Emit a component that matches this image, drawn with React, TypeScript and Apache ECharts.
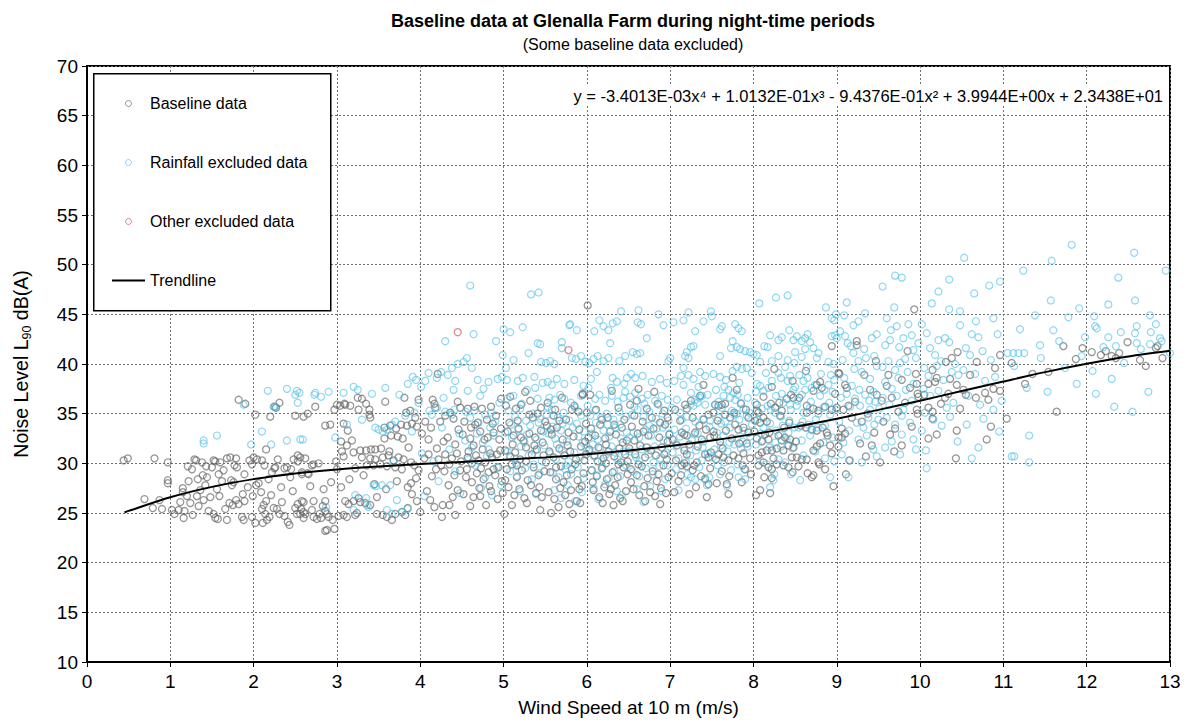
import React, { useEffect, useRef } from "react";
import * as echarts from "echarts";

type P = [number, number];

const titleText = "Baseline data at Glenalla Farm during night-time periods";
const subtitleText = "(Some baseline data excluded)";
const xAxisName = "Wind Speed at 10 m (m/s)";
const yAxisName = "Noise Level L{sub|90} dB(A)";
const equationText =
  "y = -3.4013E-03x⁴ + 1.0132E-01x³ - 9.4376E-01x² + 3.9944E+00x + 2.3438E+01";
const seriesNames = ["Baseline data", "Rainfall excluded data", "Other excluded data", "Trendline"];

const baseline_0_3: P[] = [
  [0.44,30.3],[0.49,30.5],[0.69,26.4],[0.79,25.5],[0.81,30.5],[0.87,26.3],[0.9,25.4],[0.97,30.1],[0.97,28.3],[0.97,28.0],
  [1.02,25.3],[1.1,25.3],[1.16,24.5],[1.17,25.2],[1.22,28.2],[1.15,27.5],[1.15,27.1],[1.21,29.7],[1.26,29.4],[1.29,30.4],
  [1.31,30.3],[1.2,26.7],[1.24,26.0],[1.32,26.7],[1.34,25.7],[1.4,26.3],[1.42,27.8],[1.43,29.7],[1.39,28.8],[1.44,28.6],
  [1.33,28.4],[1.48,26.6],[1.05,24.9],[1.12,26.1],[1.27,24.8],[1.36,27.3],[1.46,25.2],[1.38,30.1],
  [1.5,29.6],[1.52,30.3],[1.54,30.2],[1.6,30.1],[1.56,27.4],[1.59,26.7],[1.52,24.9],[1.57,24.4],[1.54,24.5],[1.64,29.3],
  [1.68,30.5],[1.72,30.6],[1.79,30.5],[1.74,27.8],[1.76,28.1],[1.73,28.3],[1.68,24.3],[1.71,26.0],[1.75,25.8],[1.79,26.3],
  [1.82,25.9],[1.89,26.2],[1.87,26.9],[1.77,29.8],[1.8,29.6],[1.89,28.9],[1.86,24.6],[1.88,24.3],[1.82,36.4],[1.9,36.0],
  [1.98,24.6],[1.99,26.7],[1.98,29.9],[1.62,28.2],[1.66,25.4],[1.93,27.6],[1.95,30.3],[1.58,28.9],
  [2.0,30.6],[2.04,30.4],[2.03,27.8],[2.06,28.0],[2.02,24.0],[2.11,24.0],[2.1,25.4],[2.12,25.8],[2.15,26.2],[2.14,24.9],
  [2.19,24.6],[2.16,24.3],[2.1,30.3],[2.13,29.8],[2.15,31.4],[2.02,34.9],[2.2,34.7],[2.25,35.7],[2.27,35.6],[2.31,36.1],
  [2.22,29.1],[2.25,29.5],[2.26,29.6],[2.29,30.4],[2.24,25.5],[2.28,25.4],[2.34,26.1],[2.31,24.9],[2.37,24.7],[2.43,23.8],
  [2.41,24.1],[2.47,27.2],[2.37,29.5],[2.4,29.6],[2.45,29.4],[2.48,30.4],[2.09,27.1],[2.18,28.4],[2.33,27.6],[2.44,28.6],[2.21,26.8],
  [2.5,25.5],[2.53,25.9],[2.57,25.4],[2.6,26.1],[2.52,24.9],[2.56,24.9],[2.62,24.9],[2.53,30.2],[2.56,30.6],[2.62,30.5],
  [2.53,30.8],[2.5,34.8],[2.6,34.7],[2.65,35.0],[2.74,35.7],[2.58,28.9],[2.66,28.9],[2.7,29.8],[2.78,30.0],[2.76,24.4],
  [2.79,24.9],[2.83,25.7],[2.81,24.5],[2.6,25.1],[2.6,24.5],[2.58,29.1],[2.65,29.0],[2.72,29.9],[2.58,26.2],[2.72,26.2],
  [2.86,26.2],[2.7,25.3],[2.72,24.6],[2.86,25.2],[2.88,24.9],[2.9,24.6],[2.95,24.3],[2.86,23.2],[2.88,23.3],[2.97,23.4],
  [2.86,33.8],[2.92,33.9],[2.97,35.4],[2.93,28.1],[2.84,27.4],[2.68,27.7],[2.99,30.2]
];

const baseline_3_5: P[] = [
  [3.0,35.9],[3.04,35.8],[3.1,35.9],[3.16,35.8],[3.09,36.0],[3.25,36.6],[3.3,36.5],[3.35,36.0],[3.39,35.4],[3.39,34.9],
  [3.4,34.6],[3.26,35.4],[3.05,32.2],[3.06,31.2],[3.18,32.3],[3.12,31.8],[3.08,30.7],[3.08,34.0],[3.2,31.1],[3.28,31.3],
  [3.35,31.3],[3.41,31.4],[3.46,31.4],[3.3,30.6],[3.4,30.5],[3.46,30.4],[3.36,29.8],[3.44,29.8],[3.02,24.7],[3.08,24.8],
  [3.12,24.6],[3.22,24.8],[3.24,25.0],[3.1,26.2],[3.14,25.9],[3.2,26.2],[3.26,26.5],[3.28,26.1],[3.34,26.0],[3.4,25.8],
  [3.48,26.6],[3.48,24.9],[3.05,27.6],[3.15,28.4],[3.32,28.8],[3.45,27.9],[3.22,29.5],[3.0,29.4],[3.13,33.3],
  [3.58,36.2],[3.81,36.6],[3.98,36.4],[3.57,33.6],[3.64,33.8],[3.71,33.5],[3.77,33.9],[3.84,33.8],[3.9,34.0],[3.96,33.7],
  [3.57,32.5],[3.65,32.8],[3.73,32.7],[3.79,32.5],[3.55,30.6],[3.62,30.8],[3.68,30.3],[3.74,30.6],[3.8,30.4],[3.89,30.1],
  [3.52,29.9],[3.6,29.7],[3.7,29.6],[3.78,29.4],[3.93,29.8],[3.55,24.8],[3.6,24.6],[3.66,24.3],[3.7,24.9],[3.78,25.1],
  [3.82,24.8],[3.85,25.5],[3.9,26.9],[3.96,26.2],[4.0,25.1],[3.85,27.6],[3.89,28.0],[3.95,28.5],[3.98,29.3],[3.53,31.5],
  [3.63,31.2],[3.59,27.4],[3.72,28.2],[3.86,31.6],[3.94,34.6],[3.88,35.3],[3.83,35.1],
  [4.15,36.4],[4.17,36.0],[4.18,35.6],[4.21,39.0],[4.45,36.2],[4.2,31.5],[4.28,32.2],[4.33,32.6],[4.42,31.9],[4.46,33.4],
  [4.25,29.8],[4.29,29.2],[4.35,29.9],[4.41,28.8],[4.48,29.3],[4.17,25.6],[4.27,25.8],[4.35,25.8],[4.39,26.6],[4.45,27.3],
  [4.05,30.5],[4.1,30.9],[4.14,28.7],[4.08,27.2],[4.12,26.3],[4.22,30.4],[4.3,30.9],[4.38,30.5],[4.44,31.0],[4.02,33.0],
  [4.1,32.4],[4.24,34.2],[4.3,34.8],[4.36,35.1],[4.4,34.5],[4.48,35.6],[4.06,34.2],[4.34,27.8],[4.42,24.8],[4.26,24.6],
  [4.49,30.2],[4.13,33.6],[4.19,29.4],
  [4.57,35.5],[4.65,35.7],[4.74,35.5],[4.85,35.7],[4.97,36.5],[4.6,32.5],[4.64,31.8],[4.72,33.2],[4.81,32.6],[4.88,33.1],
  [4.95,32.4],[4.57,30.6],[4.62,30.0],[4.7,30.3],[4.78,30.1],[4.86,30.6],[4.94,29.6],[4.55,28.6],[4.62,28.1],[4.68,29.0],
  [4.76,28.4],[4.83,27.7],[4.9,28.8],[4.98,28.2],[4.6,25.7],[4.64,26.6],[4.72,26.7],[4.79,25.8],[4.85,27.2],[4.93,26.4],
  [4.99,27.0],[4.53,34.2],[4.69,34.1],[4.8,34.4],[4.91,34.8],[4.58,31.2],[4.75,31.4],[4.84,31.0],[4.96,31.3],[4.66,33.9],
  [4.52,26.9],[4.88,29.4],[4.71,27.5]
];

const baseline_5_7: P[] = [
  [5.03,35.8],[5.08,36.7],[5.15,35.5],[5.21,35.9],[5.32,36.3],[5.45,35.6],[5.05,33.2],[5.12,32.8],[5.18,33.5],[5.24,32.3],
  [5.31,33.0],[5.38,32.6],[5.45,33.3],[5.02,31.3],[5.08,30.7],[5.14,31.1],[5.2,30.4],[5.27,31.6],[5.34,30.9],[5.4,31.4],
  [5.48,30.8],[5.04,29.4],[5.1,29.9],[5.16,28.6],[5.22,29.3],[5.29,28.3],[5.36,29.6],[5.42,28.8],[5.49,29.2],[5.06,27.6],
  [5.13,26.8],[5.19,27.4],[5.25,26.5],[5.33,27.8],[5.39,27.0],[5.46,26.6],[5.1,25.8],[5.28,26.0],[5.44,25.3],[5.17,34.3],
  [5.35,34.6],[5.5,34.2],[5.26,37.2],[5.01,24.9],[5.41,35.0],
  [5.53,36.1],[5.62,35.4],[5.7,36.6],[5.85,35.8],[5.95,37.0],[5.52,33.8],[5.58,32.9],[5.64,33.6],[5.71,32.4],[5.78,33.1],
  [5.84,32.7],[5.91,33.4],[5.98,32.2],[5.55,31.2],[5.6,30.6],[5.67,31.5],[5.73,30.8],[5.8,31.2],[5.87,30.4],[5.93,31.7],
  [5.99,30.9],[5.56,29.1],[5.63,28.4],[5.69,29.7],[5.76,28.8],[5.82,29.4],[5.89,28.3],[5.96,29.0],[5.54,27.1],[5.61,26.4],
  [5.68,27.5],[5.74,26.8],[5.81,27.3],[5.88,26.2],[5.94,27.7],[5.66,25.6],[5.79,25.9],[5.92,26.0],[5.6,34.8],[5.75,34.4],
  [5.9,35.2],[5.57,25.0],[5.83,24.9],[5.99,34.0],
  [6.01,45.9],[5.95,36.9],[6.04,36.9],[6.0,35.1],[6.05,33.5],[6.1,32.8],[6.16,33.9],[6.22,32.5],[6.28,33.2],[6.35,32.9],
  [6.42,33.6],[6.48,32.3],[6.03,31.4],[6.09,30.8],[6.14,31.6],[6.2,30.5],[6.26,31.2],[6.33,30.7],[6.39,31.5],[6.46,30.9],
  [6.06,29.3],[6.12,28.7],[6.18,29.5],[6.24,28.4],[6.31,29.1],[6.37,28.6],[6.44,29.6],[6.49,28.9],[6.08,27.3],[6.15,26.6],
  [6.21,27.6],[6.27,26.9],[6.34,27.8],[6.4,26.5],[6.47,27.2],[6.11,35.4],[6.25,34.6],[6.38,35.6],[6.45,34.4],[6.19,26.0],
  [6.32,25.8],[6.43,26.2],[6.3,37.3],[6.23,30.0],[6.41,30.1],
  [6.52,35.9],[6.6,36.3],[6.72,35.5],[6.85,36.0],[6.93,35.3],[6.54,33.7],[6.61,33.0],[6.67,34.2],[6.74,32.8],[6.8,33.5],
  [6.87,32.6],[6.94,33.9],[6.99,32.9],[6.51,31.5],[6.58,30.9],[6.64,31.8],[6.7,30.6],[6.77,31.3],[6.83,30.8],[6.9,31.6],
  [6.96,30.4],[6.53,29.4],[6.6,28.8],[6.66,29.7],[6.73,28.5],[6.79,29.2],[6.86,28.9],[6.92,29.8],[6.98,28.6],[6.56,27.4],
  [6.63,26.8],[6.69,27.7],[6.76,27.1],[6.82,26.7],[6.89,27.5],[6.95,27.0],[6.62,37.5],[6.81,37.2],[6.7,26.2],[6.88,25.9],
  [6.57,34.8],[6.97,34.6]
];

const baseline_7_9: P[] = [
  [7.2,35.5],[7.14,33.1],[7.17,32.9],[7.2,32.8],[7.3,33.1],[7.35,33.8],[7.4,34.4],[7.46,34.9],[7.52,35.1],[7.14,29.8],
  [7.17,30.0],[7.2,29.7],[7.27,29.3],[7.29,29.8],[7.42,30.9],[7.46,30.6],[7.49,31.1],[7.17,31.3],[7.2,30.9],[7.42,28.4],
  [7.46,27.9],[7.05,27.1],[7.1,28.2],[7.08,31.8],[7.12,34.3],[7.25,36.3],[7.33,31.7],[7.38,32.4],[7.44,26.6],[7.02,29.0],
  [7.06,35.4],[7.31,27.6],[7.36,36.8],[7.48,32.6],[7.23,26.9],[7.4,37.9],
  [7.54,35.9],[7.58,35.8],[7.62,35.9],[7.66,36.0],[7.85,36.0],[7.66,34.9],[7.72,34.6],[7.78,33.9],[7.82,33.4],[7.88,33.6],
  [7.94,33.1],[7.94,34.6],[7.55,30.4],[7.58,30.9],[7.64,30.6],[7.7,30.3],[7.76,30.8],[7.82,30.5],[7.88,31.0],[7.56,28.0],
  [7.68,27.9],[7.86,28.1],[7.6,32.2],[7.74,32.5],[7.9,29.4],[7.52,33.2],[7.8,37.4],[7.97,28.9],[7.62,29.2],[7.7,26.9],
  [7.92,32.0],[7.75,38.6],
  [8.25,39.5],[8.22,37.7],[8.12,36.7],[8.04,35.9],[8.04,35.3],[8.21,36.0],[8.26,35.6],[8.34,35.3],[8.4,36.5],[8.45,36.9],
  [8.48,36.6],[8.02,34.3],[8.08,34.1],[8.12,34.6],[8.16,34.2],[8.04,32.5],[8.1,32.2],[8.14,32.9],[8.18,32.4],[8.3,32.8],
  [8.34,32.3],[8.38,32.6],[8.44,32.4],[8.28,31.5],[8.36,31.3],[8.42,31.8],[8.48,31.6],[8.06,30.8],[8.1,31.1],[8.16,31.3],
  [8.22,31.3],[8.06,29.8],[8.12,30.1],[8.18,29.6],[8.22,29.4],[8.28,29.9],[8.36,29.8],[8.42,29.6],[8.08,27.3],[8.2,27.0],
  [8.22,28.5],[8.03,26.8],[8.46,30.6],[8.32,34.8],[8.47,38.3],
  [8.63,39.3],[8.94,41.8],[8.72,37.3],[8.76,37.9],[8.8,38.2],[8.82,37.6],[8.64,35.8],[8.64,35.1],[8.72,35.5],[8.78,35.3],
  [8.86,35.7],[8.94,35.4],[8.57,33.8],[8.63,33.6],[8.7,33.4],[8.76,33.3],[8.83,33.6],[8.88,33.1],[8.52,30.6],[8.58,30.4],
  [8.54,29.7],[8.72,31.3],[8.76,31.7],[8.8,32.0],[8.92,31.8],[8.65,29.0],[8.7,28.6],[8.78,30.1],[8.86,29.4],[8.96,27.7],
  [8.72,28.8],[8.79,29.9],[8.64,30.4],[8.94,31.0],[8.89,32.8],[8.55,36.6],[8.98,37.0]
];

const baseline_9_13: P[] = [
  [9.02,39.1],[9.03,39.0],[9.1,37.9],[9.12,37.6],[9.0,35.6],[9.08,35.4],[9.14,35.8],[9.06,33.5],[9.1,33.0],[9.02,32.6],
  [9.06,32.6],[9.11,28.9],[9.02,31.7],[9.24,42.3],[9.24,41.9],[9.47,40.3],[9.33,38.9],[9.4,37.4],[9.37,35.0],[9.45,33.1],
  [9.42,31.8],[9.3,34.2],[9.22,36.2],[9.48,36.9],[9.15,30.3],[9.28,32.0],[9.35,30.7],[9.18,34.6],
  [9.54,36.3],[9.64,32.9],[9.7,33.5],[9.69,31.2],[9.78,38.4],[9.78,31.8],[9.85,41.3],[9.93,45.5],[9.95,39.0],[9.96,38.0],
  [9.97,37.0],[9.98,36.7],[9.97,35.0],[9.96,35.4],[9.6,37.8],[9.66,36.6],[9.74,35.2],[9.82,36.1],[9.88,37.6],[9.56,34.2],
  [9.9,33.7],[9.52,30.1],[9.62,38.9],
  [10.1,38.0],[10.15,39.4],[10.2,38.6],[10.18,38.2],[10.1,32.5],[10.2,32.9],[10.15,34.5],[10.1,35.6],[10.15,35.2],[10.31,40.2],
  [10.45,41.2],[10.38,40.6],[10.36,38.5],[10.44,37.9],[10.3,36.6],[10.34,37.0],[10.43,30.5],[10.44,33.3],[10.05,36.9],[10.25,36.0],
  [10.48,35.5],
  [10.55,36.9],[10.52,37.4],[10.67,36.6],[10.68,40.2],[10.78,37.1],[10.82,36.4],[10.88,37.5],[10.96,37.3],[10.96,40.9],[10.85,33.7],
  [10.8,32.4],[10.6,38.9],[10.9,39.6],
  [11.04,34.5],[11.26,38.0],[11.1,40.1],[11.35,39.0],
  [11.54,39.2],[11.64,35.2],[11.72,41.8],[11.87,40.5],[11.95,41.6],
  [12.17,40.9],[12.23,41.3],[12.3,40.8],[12.35,40.6],[12.39,41.1],[12.49,42.2],[12.64,40.4],[12.71,39.8],[12.85,41.8],[12.83,41.6],
  [12.91,40.6],[12.06,41.2]
];

const baseline_dense: P[] = [
  [4.51,32.9],[4.56,29.4],[4.61,33.6],[4.67,30.8],[4.73,29.5],[4.77,32.4],[4.82,29.1],[4.87,34.0],[4.92,30.9],[4.97,33.5],
  [5.02,28.3],[5.07,34.1],[5.11,31.9],[5.16,29.8],[5.21,32.6],[5.27,30.2],[5.31,34.9],[5.37,31.8],[5.43,27.6],[5.47,32.1],
  [5.51,30.1],[5.57,33.4],[5.63,29.6],[5.67,34.3],[5.72,28.1],[5.77,31.8],[5.82,35.4],[5.86,29.9],[5.91,27.4],[5.97,30.3],
  [6.02,32.6],[6.07,28.1],[6.13,30.2],[6.18,34.4],[6.23,31.9],[6.29,27.4],[6.33,33.9],[6.38,29.9],[6.43,32.1],[6.49,30.2],
  [6.53,28.1],[6.57,32.3],[6.62,29.9],[6.68,33.2],[6.72,31.6],[6.78,34.6],[6.84,28.2],[6.88,34.1],[6.93,30.9],[6.97,32.2],
  [7.03,32.4],[7.07,30.3],[7.13,28.8],[7.18,35.9],[7.23,31.9],[7.27,34.6],[7.32,30.1],[7.37,28.7],[7.43,33.4],[7.48,29.5],
  [7.53,32.8],[7.57,34.3],[7.63,31.5],[7.67,33.3],[7.71,28.7],[7.77,35.1],[7.83,32.0],[7.87,29.8],[7.91,35.4],[7.96,30.5],
  [8.01,33.2],[8.06,35.1],[8.13,28.6],[8.19,33.1],[8.24,30.5],[8.31,36.1],[8.37,33.6],[8.43,34.1],[8.47,29.1],[8.51,32.2]
];

const rainfall_1_4: P[] = [
  [1.56,32.8],[1.4,32.3],[1.4,32.0],[1.97,31.9],[1.88,35.9],
  [2.17,37.3],[2.4,37.5],[2.52,37.3],[2.55,37.1],[2.5,36.9],[2.74,37.1],[2.53,36.1],[2.24,35.7],[2.26,35.6],[2.21,31.9],
  [2.4,32.3],[2.56,32.4],[2.59,32.4],[2.73,36.9],[2.81,36.7],[2.9,37.2],[2.98,32.6],[2.1,33.2],[2.87,25.6],
  [3.08,37.1],[3.2,37.7],[3.25,37.4],[3.44,27.8],[3.47,27.7],[3.2,25.3],[3.22,26.8],[3.36,25.8],[3.38,25.6],[3.46,33.6],
  [3.5,33.4],[3.12,33.9],[3.3,34.4],[3.42,37.0],[3.35,26.5],
  [3.54,27.8],[3.64,27.8],[3.6,25.3],[3.66,24.9],[3.72,26.3],[3.78,25.1],[3.85,25.4],[3.55,33.2],[3.6,33.4],[3.66,33.9],
  [3.7,34.2],[3.82,34.8],[3.9,33.2],[3.93,35.1],[3.85,38.0],[3.91,38.7],[3.95,38.4],[3.58,37.6],[3.75,36.9],[3.68,30.2],
  [3.98,36.1]
];

const rainfall_4_6: P[] = [
  [4.01,37.7],[4.06,38.3],[4.1,39.1],[4.2,38.6],[4.25,39.2],[4.3,42.3],[4.33,38.9],[4.38,39.6],[4.42,38.3],[4.45,40.0],
  [4.11,35.3],[4.14,34.9],[4.2,35.6],[4.3,35.2],[4.38,34.9],[4.41,35.4],[4.02,31.0],[4.16,30.2],[4.26,33.6],[4.35,31.4],
  [4.42,29.2],[4.48,27.0],[4.05,26.7],[4.22,28.2],[4.47,33.0],[4.28,36.6],[4.4,37.4],
  [4.6,47.9],[4.52,40.2],[4.56,40.6],[4.62,39.6],[4.69,38.4],[4.72,36.8],[4.76,37.5],[4.82,38.2],[4.91,42.3],[4.93,38.5],
  [4.98,38.7],[4.55,35.2],[4.6,34.6],[4.65,35.3],[4.7,34.1],[4.78,34.9],[4.85,35.1],[4.9,34.2],[4.95,36.1],[4.54,32.3],
  [4.62,31.6],[4.68,33.0],[4.75,32.1],[4.82,31.4],[4.88,32.8],[4.58,30.4],[4.66,29.8],[4.8,30.7],[4.92,29.6],[4.73,27.5],
  [4.86,26.8],[4.97,27.8],[4.64,43.0],[4.99,40.9],[4.57,37.3],[4.84,33.6],[4.78,28.6],
  [5.0,43.5],[5.08,43.2],[5.23,43.7],[5.33,47.0],[5.42,47.2],[5.41,42.1],[5.44,42.0],[5.04,38.4],[5.17,38.3],[5.23,38.6],
  [5.37,38.7],[5.45,40.2],[5.38,37.6],[5.12,36.8],[5.28,37.4],[5.41,36.5],[5.06,35.3],[5.14,34.7],[5.2,35.5],[5.27,34.3],
  [5.35,35.0],[5.44,34.5],[5.02,33.1],[5.1,32.6],[5.18,33.4],[5.25,32.1],[5.32,33.8],[5.4,32.4],[5.48,33.2],[5.05,31.2],
  [5.13,30.5],[5.21,31.7],[5.3,30.8],[5.38,31.3],[5.46,30.2],[5.08,29.2],[5.16,28.7],[5.26,29.5],[5.34,28.4],[5.43,29.0],
  [5.2,27.2],[5.39,26.9],[5.12,40.4],[5.3,41.1],[5.47,38.1],[5.03,39.6],
  [5.51,40.1],[5.56,40.3],[5.61,40.0],[5.53,38.2],[5.58,37.9],[5.64,38.5],[5.7,42.2],[5.7,41.6],[5.8,44.0],[5.88,43.4],
  [5.79,43.9],[5.82,40.6],[5.87,40.5],[5.93,40.8],[5.98,40.2],[5.73,38.0],[5.85,38.4],[5.96,37.8],[5.55,36.6],[5.61,36.4],
  [5.68,36.9],[5.73,36.5],[5.93,36.8],[5.52,34.9],[5.58,35.4],[5.65,34.6],[5.72,35.1],[5.79,34.3],[5.86,35.6],[5.93,34.8],
  [5.54,33.0],[5.62,32.5],[5.69,33.3],[5.76,32.2],[5.83,33.6],[5.9,32.7],[5.97,33.2],[5.56,31.0],[5.63,30.4],[5.7,31.3],
  [5.78,30.2],[5.85,31.1],[5.92,30.6],[5.99,31.5],[5.59,29.1],[5.66,28.6],[5.74,29.4],[5.81,28.9],[5.89,29.6],[5.96,28.5],
  [5.61,27.3],[5.77,27.8],[5.94,27.1],[5.69,26.5],[5.86,26.2]
];

const rainfall_6_8: P[] = [
  [6.15,44.4],[6.09,43.3],[6.2,43.8],[6.26,43.4],[6.31,44.1],[6.36,44.3],[6.41,45.3],[6.03,40.1],[6.08,40.5],[6.13,40.8],
  [6.2,40.3],[6.26,40.6],[6.39,40.3],[6.46,40.8],[6.31,38.6],[6.36,38.2],[6.45,38.0],[6.48,38.6],[6.02,37.6],[6.05,38.5],
  [6.1,36.5],[6.15,36.9],[6.22,36.3],[6.3,36.8],[6.37,36.2],[6.44,36.6],[6.04,34.8],[6.1,35.3],[6.17,34.6],[6.24,35.0],
  [6.32,34.4],[6.39,35.2],[6.47,34.7],[6.06,33.0],[6.13,32.4],[6.2,33.3],[6.27,32.7],[6.34,33.6],[6.41,32.5],[6.48,33.1],
  [6.02,31.3],[6.09,30.7],[6.16,31.5],[6.23,30.9],[6.3,31.7],[6.37,30.4],[6.44,31.2],[6.05,29.3],[6.12,28.8],[6.19,29.6],
  [6.26,28.5],[6.33,29.2],[6.4,28.7],[6.47,29.8],[6.08,27.5],[6.22,27.9],[6.36,27.2],[6.14,26.4],[6.42,26.8],[6.28,42.1],
  [6.12,39.2],
  [6.62,45.4],[6.61,44.2],[6.65,44.0],[6.86,45.0],[6.92,43.9],[6.55,41.2],[6.6,41.0],[6.64,41.1],[6.53,39.0],[6.58,38.6],
  [6.67,38.8],[6.78,38.2],[6.88,38.5],[6.96,38.1],[6.52,36.7],[6.58,37.1],[6.66,36.5],[6.73,36.9],[6.82,36.3],[6.9,36.8],
  [6.97,36.4],[6.54,34.9],[6.61,35.4],[6.68,34.7],[6.75,35.2],[6.83,34.5],[6.91,35.0],[6.98,34.3],[6.56,33.1],[6.63,32.6],
  [6.7,33.4],[6.77,32.8],[6.84,33.5],[6.92,32.3],[6.99,33.0],[6.51,31.2],[6.59,30.6],[6.66,31.4],[6.74,30.9],[6.81,31.7],
  [6.88,30.5],[6.95,31.1],[6.55,29.2],[6.63,28.7],[6.71,29.5],[6.79,28.9],[6.87,29.7],[6.94,28.4],[6.6,27.4],[6.76,27.7],
  [6.9,27.2],[6.68,26.1],[6.98,40.3],[6.72,42.6],
  [7.04,44.2],[7.22,45.2],[7.16,44.4],[7.3,43.3],[7.28,41.8],[7.0,40.6],[7.22,40.6],[7.2,41.2],[7.18,40.8],[7.25,41.7],
  [7.16,39.6],[7.22,38.9],[7.36,39.2],[7.42,38.8],[7.28,38.5],[7.16,37.9],[7.05,38.3],[7.25,37.1],[7.35,36.6],[7.28,35.8],
  [7.3,36.4],[7.33,36.1],[7.38,36.8],[7.42,35.9],[7.08,36.4],[7.12,35.1],[7.14,34.4],[7.2,34.7],[7.3,34.2],[7.4,34.5],
  [7.48,34.3],[7.05,33.4],[7.12,32.7],[7.19,33.5],[7.26,32.4],[7.33,33.0],[7.4,32.2],[7.47,33.7],[7.03,31.1],[7.1,30.5],
  [7.17,31.6],[7.24,30.8],[7.31,31.3],[7.38,30.3],[7.45,31.0],[7.07,29.4],[7.21,28.9],[7.35,29.6],[7.2,28.1],[7.25,28.6],
  [7.3,28.4],[7.42,28.5],[7.47,28.6],[7.1,27.3],[7.44,27.8],
  [7.49,45.3],[7.5,44.8],[7.4,44.3],[7.62,43.8],[7.78,44.0],[7.82,43.6],[7.86,43.3],[7.6,43.5],[7.75,42.3],[7.8,41.7],
  [7.84,41.5],[7.9,41.3],[7.96,41.2],[8.0,41.0],[7.6,40.8],[7.73,41.6],[7.86,39.5],[7.92,39.6],[7.98,39.1],[7.52,39.0],
  [7.6,38.7],[7.75,39.3],[7.8,39.7],[7.65,37.7],[7.7,37.4],[7.76,37.1],[7.81,36.9],[7.72,36.6],[7.78,36.4],[7.85,36.1],
  [7.64,36.8],[7.58,36.2],[7.54,35.9],[7.62,35.6],[7.74,35.3],[7.8,35.0],[7.88,35.5],[7.95,35.1],[7.58,34.6],[7.66,34.2],
  [7.83,34.4],[7.92,34.8],[7.56,33.1],[7.64,32.8],[7.72,33.6],[7.8,32.5],[7.88,33.3],[7.96,32.7],[7.53,31.4],[7.61,31.8],
  [7.69,31.2],[7.77,31.9],[7.85,31.5],[7.93,31.7],[7.57,29.8],[7.65,30.1],[7.73,29.3],[7.81,29.9],[7.89,29.4],[7.68,27.7],
  [7.82,28.6],[7.9,28.4],[7.6,28.9]
];

const rainfall_8_10: P[] = [
  [8.07,46.1],[8.27,46.7],[8.41,46.9],[8.43,43.4],[8.2,42.9],[8.3,42.4],[8.34,42.7],[8.48,42.4],[8.08,40.2],[8.13,41.8],
  [8.17,41.7],[8.22,40.3],[8.3,40.8],[8.41,40.4],[8.04,40.9],[8.3,39.1],[8.33,38.6],[8.41,38.3],[8.44,38.8],[8.04,38.0],
  [8.08,37.8],[8.12,37.3],[8.18,37.6],[8.22,38.3],[8.34,37.0],[8.4,36.5],[8.44,35.9],[8.36,36.1],[8.48,37.4],[8.02,36.1],
  [8.1,35.5],[8.17,35.8],[8.26,35.1],[8.33,34.7],[8.45,35.4],[8.05,34.4],[8.12,33.6],[8.2,34.0],[8.27,33.3],[8.35,33.8],
  [8.42,33.1],[8.49,33.6],[8.03,31.9],[8.11,32.3],[8.19,31.6],[8.26,32.1],[8.33,31.7],[8.4,32.4],[8.47,31.5],[8.08,30.3],
  [8.16,29.9],[8.24,28.3],[8.25,28.9],[8.3,30.4],[8.38,30.1],[8.45,28.9],[8.2,27.6],
  [8.56,28.3],[8.52,42.8],[8.58,42.3],[8.62,42.6],[8.65,43.0],[8.68,42.2],[8.72,41.6],[8.78,41.1],[8.76,40.6],[8.87,45.7],
  [8.5,41.2],[8.58,40.7],[8.62,41.5],[8.55,38.9],[8.6,38.3],[8.65,38.6],[8.7,37.6],[8.74,37.9],[8.62,37.4],[8.58,36.9],
  [8.5,37.7],[8.9,37.9],[8.95,37.2],[8.8,36.8],[8.85,37.4],[8.52,35.8],[8.6,35.1],[8.68,35.6],[8.78,35.0],[8.84,35.6],
  [8.92,34.9],[8.99,35.4],[8.54,33.6],[8.66,33.9],[8.7,33.4],[8.77,33.6],[8.58,32.3],[8.68,32.8],[8.84,32.1],[8.95,32.6],
  [8.6,30.8],[8.74,31.2],[8.86,30.5],[8.92,28.6],[8.97,30.2],[8.97,44.4],[8.99,45.0],[8.94,44.6],[8.98,42.9],[8.94,42.8],
  [8.9,40.2],[8.96,40.0],[8.93,38.9],
  [9.09,44.9],[9.0,42.6],[9.1,42.8],[9.04,43.3],[9.07,40.4],[9.13,42.1],[9.17,41.8],[9.18,37.8],[9.12,37.0],[9.05,36.6],
  [9.16,35.7],[9.08,32.1],[9.16,30.3],[9.06,30.9],[9.2,41.1],[9.26,40.3],[9.3,39.2],[9.35,40.6],[9.4,38.5],[9.44,37.2],
  [9.48,39.8],[9.22,36.5],[9.28,35.8],[9.34,36.9],[9.4,35.4],[9.46,36.2],[9.24,34.1],[9.32,33.6],[9.38,34.6],[9.45,33.9],
  [9.5,34.4],[9.26,32.4],[9.36,32.8],[9.44,31.4],[9.3,30.1],[9.2,43.9],[9.42,42.6],[9.12,46.2],[9.26,44.3],[9.48,43.0],
  [9.34,45.1],[9.14,28.6],[9.48,30.7],
  [9.7,48.9],[9.78,48.7],[9.69,45.7],[9.55,47.8],[9.6,44.6],[9.65,43.4],[9.72,43.8],[9.8,42.6],[9.86,44.0],[9.9,42.9],
  [9.58,41.9],[9.64,42.4],[9.75,41.7],[9.82,40.5],[9.92,41.4],[9.98,42.1],[9.55,39.7],[9.62,40.3],[9.7,39.4],[9.76,40.1],
  [9.85,39.2],[9.95,40.6],[9.58,38.2],[9.66,37.5],[9.74,38.6],[9.83,37.4],[9.92,38.0],[9.55,36.6],[9.63,35.9],[9.72,36.8],
  [9.8,35.4],[9.9,36.3],[9.6,34.6],[9.7,33.9],[9.78,34.8],[9.88,34.1],[9.66,32.2],[9.78,32.9],[9.92,32.4],[9.58,31.6],
  [9.76,30.9],[9.95,31.4]
];

const rainfall_10_13: P[] = [
  [10.35,48.5],[10.35,45.5],[10.48,45.3],[10.22,42.4],[10.3,42.6],[10.35,42.2],[10.02,44.0],[10.08,43.1],[10.12,41.6],[10.18,40.9],
  [10.25,40.3],[10.42,40.0],[10.05,39.6],[10.1,38.8],[10.2,39.8],[10.28,38.4],[10.38,39.2],[10.46,38.9],[10.04,37.5],[10.12,36.8],
  [10.22,37.3],[10.32,35.6],[10.4,36.1],[10.06,35.1],[10.16,34.4],[10.26,33.8],[10.36,34.7],[10.08,29.5],[10.07,31.3],[10.45,32.2],
  [10.02,33.3],[10.14,46.1],[10.22,47.3],[10.48,43.9],
  [10.53,50.7],[10.65,47.1],[10.83,47.9],[10.96,48.3],[10.67,44.3],[10.93,43.0],[10.62,43.0],[10.7,42.7],[10.55,41.6],[10.6,40.9],
  [10.75,41.3],[10.85,40.4],[10.52,39.4],[10.66,39.0],[10.78,38.3],[10.9,38.7],[10.62,30.5],[10.58,36.8],[10.72,35.9],[10.88,35.4],
  [10.98,36.3],[10.56,33.9],[10.76,34.5],[10.95,33.2],[10.7,31.6],[10.88,44.6],
  [11.24,49.4],[11.44,41.9],[11.45,40.6],[11.13,39.8],[11.05,41.1],[11.12,41.1],[11.18,41.1],[11.25,41.1],[11.31,32.8],[11.1,30.7],
  [11.13,30.7],[11.31,30.1],[11.2,43.5],[11.38,44.9],[11.28,37.6],
  [11.82,52.0],[11.58,50.4],[11.57,46.4],[11.91,45.6],[11.78,44.7],[11.98,42.7],[11.67,42.3],[11.94,40.8],[11.88,38.0],[11.53,37.2],
  [11.6,43.4],[11.74,39.6],
  [12.57,51.2],[12.95,49.4],[12.38,48.7],[12.58,46.4],[12.26,46.0],[12.09,44.8],[12.76,44.9],[12.6,43.8],[12.83,44.0],[12.1,43.8],
  [12.12,43.6],[12.41,43.2],[12.58,43.1],[12.77,43.2],[12.26,42.7],[12.88,42.6],[12.35,41.8],[12.6,42.1],[12.76,42.0],[12.9,42.3],
  [13.0,41.1],[12.07,39.3],[12.3,38.5],[12.11,37.0],[12.74,37.2],[12.33,35.7],[12.55,35.2],[12.2,41.7],[12.45,40.1],[12.65,41.5]
];

const rainfall_dense: P[] = [
  [5.04,36.5],[5.09,33.9],[5.15,30.0],[5.22,36.0],[5.28,32.9],[5.36,29.9],[5.42,34.1],[5.49,31.8],[5.53,35.7],[5.59,33.7],
  [5.64,31.9],[5.71,34.0],[5.75,29.8],[5.81,36.1],[5.88,34.0],[5.95,32.1],[6.01,35.8],[6.07,31.9],[6.11,34.1],[6.18,30.2],
  [6.25,33.9],[6.29,37.6],[6.34,31.1],[6.4,33.9],[6.46,37.2],[6.51,32.6],[6.57,35.7],[6.63,30.2],[6.69,36.0],[6.75,33.8],
  [6.8,30.1],[6.86,35.9],[6.91,33.6],[6.97,29.8],[7.02,35.6],[7.07,32.0],[7.13,38.8],[7.19,30.1],[7.24,35.9],[7.29,32.9],
  [7.34,37.7],[7.39,31.6],[7.45,36.9],[7.51,30.6],[7.55,37.4],[7.61,34.0],[7.67,38.4],[7.71,32.1],[7.77,34.9],[7.83,38.1],
  [7.87,32.2],[7.93,36.6],[7.98,33.9],[8.03,37.2],[8.09,33.0],[8.15,39.1],[8.21,35.4],[8.27,36.8],[8.32,32.9],[8.38,39.7],
  [8.43,34.3],[8.49,40.1],[8.53,36.3],[8.59,34.2],[8.64,39.7],[8.69,36.2],[8.75,34.4],[8.81,39.0],[8.86,33.8],[8.91,36.1],
  [8.97,38.4],[9.03,34.2],[9.09,38.6],[9.15,33.3],[9.21,39.5],[9.27,37.4],[9.33,41.5],[9.39,36.3],[9.45,40.8],[9.51,35.5]
];

const otherExcluded: P[] = [[4.45,43.2],[5.78,41.4]];

const trendX = [0.45,0.5,1,1.5,2,2.5,3,3.5,4,4.5,5,5.5,6,6.5,7,7.5,8,8.5,9,9.5,10,10.5,11,11.5,12,12.5,13];
const trendY = [25.05,25.21,26.59,27.63,28.41,28.98,29.39,29.69,29.93,30.14,30.36,30.60,30.91,31.28,31.74,32.29,32.94,33.67,34.49,35.38,36.31,37.28,38.24,39.18,40.02,40.76,41.33];

const xTicks = { min: 0, max: 13, interval: 1 };
const yTicks = { min: 10, max: 70, interval: 5 };

const FONT = "'Liberation Sans', Arial, sans-serif";

export default function App() {
  const ref = useRef<HTMLDivElement>(null);

  useEffect(() => {
    if (!ref.current) return;
    const chart = echarts.init(ref.current, undefined, { renderer: "svg" });

    const baseline = [...baseline_0_3, ...baseline_3_5, ...baseline_5_7, ...baseline_7_9, ...baseline_9_13, ...baseline_dense];
    const rainfall = [...rainfall_1_4, ...rainfall_4_6, ...rainfall_6_8, ...rainfall_8_10, ...rainfall_10_13, ...rainfall_dense];
    const trend = trendX.map((x, i) => [x, trendY[i]]);

    const grayC = "rgba(100,100,100,0.85)";
    const blueC = "rgba(78,192,232,0.8)";
    const redC = "rgba(210,100,110,0.95)";

    const axisCommon = {
      axisLine: { show: true, lineStyle: { color: "#000", width: 2 } },
      axisTick: { show: true, length: 5, lineStyle: { color: "#000", width: 1 } },
      axisLabel: { color: "#000", fontSize: 19, fontFamily: FONT },
      splitLine: { show: true, lineStyle: { color: "#707070", width: 1, type: [2, 2] } },
    };

    chart.setOption({
      animation: false,
      backgroundColor: "#fff",
      textStyle: { fontFamily: FONT },
      title: {
        text: titleText,
        subtext: subtitleText,
        left: 628,
        top: 7,
        textAlign: "center",
        itemGap: 6,
        textStyle: { fontSize: 18, fontWeight: "bold", color: "#000", fontFamily: FONT },
        subtextStyle: { fontSize: 16, color: "#000", fontFamily: FONT },
      },
      grid: { left: 87, right: 19, top: 66, bottom: 57, show: true, borderColor: "#000", borderWidth: 2, backgroundColor: "#fff" },
      xAxis: {
        type: "value",
        ...xTicks,
        ...axisCommon,
        axisLabel: { ...axisCommon.axisLabel, margin: 10 },
        name: xAxisName,
        nameLocation: "middle",
        nameGap: 36,
        nameTextStyle: { color: "#000", fontSize: 19, fontFamily: FONT },
      },
      yAxis: {
        type: "value",
        ...yTicks,
        ...axisCommon,
        axisLabel: { ...axisCommon.axisLabel, margin: 9 },
        name: yAxisName,
        nameLocation: "middle",
        nameGap: 54,
        nameTextStyle: {
          color: "#000",
          fontSize: 19.5,
          fontFamily: FONT,
          lineHeight: 24,
          rich: { sub: { fontSize: 12.5, fontFamily: FONT, color: "#000", verticalAlign: "bottom", lineHeight: 24 } },
        },
      },
      legend: {
        orient: "vertical",
        left: 112,
        top: 95,
        padding: 0,
        itemWidth: 33,
        itemHeight: 6,
        itemGap: 42,
        z: 10,
        textStyle: { fontSize: 16, color: "#000", fontFamily: FONT, lineHeight: 17 },
        data: [
          { name: seriesNames[0], icon: "circle", itemStyle: { color: "rgba(0,0,0,0)", borderColor: grayC, borderWidth: 1 } },
          { name: seriesNames[1], icon: "circle", itemStyle: { color: "rgba(0,0,0,0)", borderColor: blueC, borderWidth: 1 } },
          { name: seriesNames[2], icon: "circle", itemStyle: { color: "rgba(0,0,0,0)", borderColor: redC, borderWidth: 1 } },
          { name: seriesNames[3], icon: "path://M0,0L33,0L33,2L0,2Z", itemStyle: { color: "#000", borderWidth: 0 } },
        ],
      },
      graphic: [
        {
          type: "rect",
          left: 93,
          top: 73,
          z: 5,
          shape: { width: 237, height: 237 },
          style: { fill: "#fff", stroke: "#000", lineWidth: 1.5 },
        },
        {
          type: "text",
          right: 24,
          top: 86,
          z: 5,
          style: { text: equationText, fill: "#000", font: `16.5px ${FONT}`, backgroundColor: "#fff", padding: [1, 2] },
        },
      ],
      series: [
        {
          name: seriesNames[0],
          type: "scatter",
          data: baseline,
          symbol: "circle",
          symbolSize: 7,
          itemStyle: { color: "rgba(0,0,0,0)", borderColor: grayC, borderWidth: 1.3 },
          z: 2,
        },
        {
          name: seriesNames[1],
          type: "scatter",
          data: rainfall,
          symbol: "circle",
          symbolSize: 7,
          itemStyle: { color: "rgba(0,0,0,0)", borderColor: blueC, borderWidth: 1.2 },
          z: 3,
        },
        {
          name: seriesNames[2],
          type: "scatter",
          data: otherExcluded,
          symbol: "circle",
          symbolSize: 7,
          itemStyle: { color: "rgba(0,0,0,0)", borderColor: redC, borderWidth: 1.3 },
          z: 4,
        },
        {
          name: seriesNames[3],
          type: "line",
          data: trend,
          smooth: 0.3,
          showSymbol: false,
          symbol: "none",
          lineStyle: { color: "#000", width: 2 },
          itemStyle: { color: "#000" },
          z: 6,
        },
      ],
    });

    return () => chart.dispose();
  }, []);

  return <div ref={ref} style={{ position: "absolute", left: 0, top: 0, width: 1189, height: 722 }} />;
}
